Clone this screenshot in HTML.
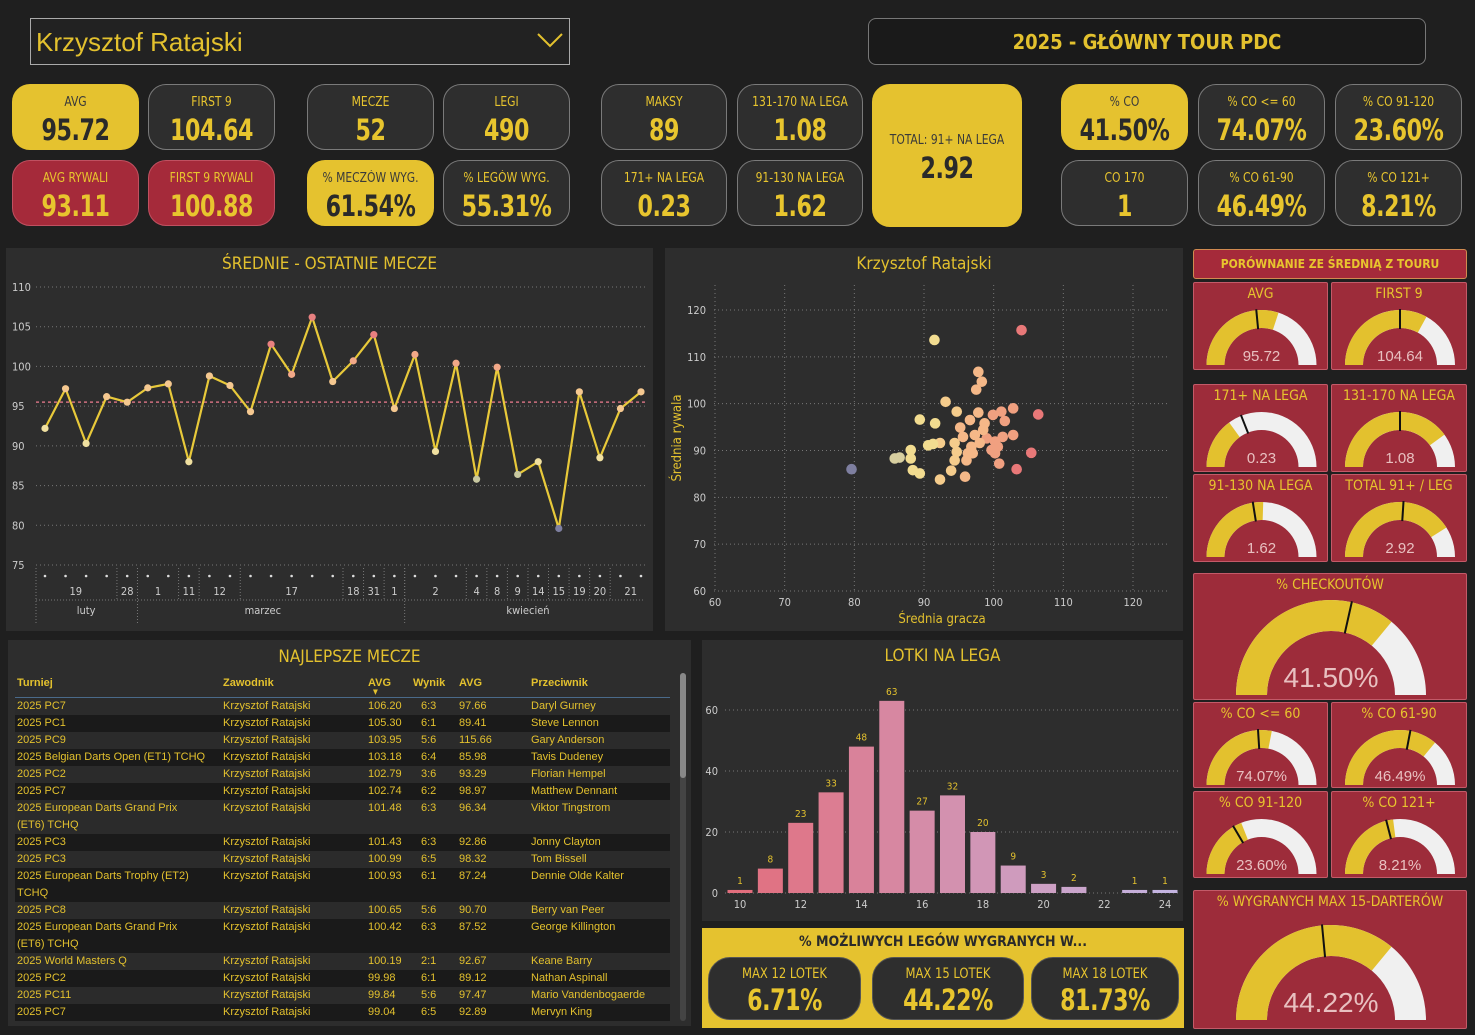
<!DOCTYPE html>
<html><head><meta charset="utf-8">
<style>
*{box-sizing:border-box;margin:0;padding:0}
body{width:1475px;height:1035px;background:#1f1f1f;font-family:"Liberation Sans Narrow","DejaVu Sans Condensed","Liberation Sans",sans-serif;position:relative;overflow:hidden;color:#e8c52e}
.abs{position:absolute}
.card{position:absolute;border-radius:18px;border:1px solid #7a7a7a;text-align:center;background:#2e2e2e;color:#e8c52e}
.card .l{font-size:13px;margin-top:10px;line-height:16px;transform:scaleX(0.92)}
.card .v{font-size:29px;font-weight:bold;line-height:34px;margin-top:2px;transform:scaleX(0.85);letter-spacing:-0.5px}
.y{background:#e5c22f;color:#2a2a2a;border-color:#e5c22f}
.y .l{color:#3a3a3a}
.r{background:#a52a3a;border-color:#c05060}
.panel{position:absolute;background:#2d2d2d}
.ptitle{position:absolute;left:0;right:0;text-align:center;font-size:17px;color:#e3c12e}
.gt{position:absolute;background:#9d2c3a;border:1px solid #c35a68;border-radius:2px}
.gt .t{position:absolute;left:0;right:0;top:3px;text-align:center;font-size:14px;color:#e8c52e}
table{border-collapse:collapse;font-family:"Liberation Sans Narrow","Liberation Sans",sans-serif;font-size:11px;color:#e3c12e}
td{padding:0 2px;vertical-align:top;line-height:17px}
tr.o{background:#2b2b2b} tr.e{background:#1a1a1a}
</style></head><body>

<div class="abs" style="left:30px;top:18px;width:540px;height:47px;border:1px solid #aaa;background:#222">
  <div class="abs" style="left:5px;top:8px;font-family:'Liberation Sans',sans-serif;font-size:26px;color:#e3c12e">Krzysztof Ratajski</div>
  <svg class="abs" style="left:505px;top:12px" width="28" height="18"><polyline points="2,3 14,15 26,3" fill="none" stroke="#e3c12e" stroke-width="2"/></svg>
</div>
<div class="abs" style="left:868px;top:18px;width:558px;height:47px;border:1px solid #777;border-radius:8px;background:#1a1a1a;text-align:center;line-height:46px;font-size:20px;font-weight:bold;color:#e3c12e">2025 - GŁÓWNY TOUR PDC</div>

<div class="card y" style="left:12px;top:84px;width:127px;height:66px"><div class="l">AVG</div><div class="v">95.72</div></div>
<div class="card" style="left:148px;top:84px;width:127px;height:66px"><div class="l">FIRST 9</div><div class="v">104.64</div></div>
<div class="card r" style="left:12px;top:160px;width:127px;height:66px"><div class="l">AVG RYWALI</div><div class="v">93.11</div></div>
<div class="card r" style="left:148px;top:160px;width:127px;height:66px"><div class="l">FIRST 9 RYWALI</div><div class="v">100.88</div></div>
<div class="card" style="left:307px;top:84px;width:127px;height:66px"><div class="l">MECZE</div><div class="v">52</div></div>
<div class="card" style="left:443px;top:84px;width:127px;height:66px"><div class="l">LEGI</div><div class="v">490</div></div>
<div class="card y" style="left:307px;top:160px;width:127px;height:66px"><div class="l">% MECZÓW WYG.</div><div class="v">61.54%</div></div>
<div class="card" style="left:443px;top:160px;width:127px;height:66px"><div class="l">% LEGÓW WYG.</div><div class="v">55.31%</div></div>
<div class="card" style="left:601px;top:84px;width:126px;height:66px"><div class="l">MAKSY</div><div class="v">89</div></div>
<div class="card" style="left:737px;top:84px;width:126px;height:66px"><div class="l">131-170 NA LEGA</div><div class="v">1.08</div></div>
<div class="card" style="left:601px;top:160px;width:126px;height:66px"><div class="l">171+ NA LEGA</div><div class="v">0.23</div></div>
<div class="card" style="left:737px;top:160px;width:126px;height:66px"><div class="l">91-130 NA LEGA</div><div class="v">1.62</div></div>
<div class="card y" style="left:872px;top:84px;width:150px;height:143px"><div class="l" style="margin-top:48px">TOTAL: 91+ NA LEGA</div><div class="v">2.92</div></div>
<div class="card y" style="left:1061px;top:84px;width:127px;height:66px"><div class="l">% CO</div><div class="v">41.50%</div></div>
<div class="card" style="left:1198px;top:84px;width:127px;height:66px"><div class="l">% CO &lt;= 60</div><div class="v">74.07%</div></div>
<div class="card" style="left:1335px;top:84px;width:127px;height:66px"><div class="l">% CO 91-120</div><div class="v">23.60%</div></div>
<div class="card" style="left:1061px;top:160px;width:127px;height:66px"><div class="l">CO 170</div><div class="v">1</div></div>
<div class="card" style="left:1198px;top:160px;width:127px;height:66px"><div class="l">% CO 61-90</div><div class="v">46.49%</div></div>
<div class="card" style="left:1335px;top:160px;width:127px;height:66px"><div class="l">% CO 121+</div><div class="v">8.21%</div></div>

<div class="panel" style="left:6px;top:248px;width:647px;height:383px">
  <div class="ptitle" style="top:6px">ŚREDNIE - OSTATNIE MECZE</div>
</div>
<svg class="abs" id="lineSvg" style="left:0;top:0" width="660" height="635"></svg>

<div class="panel" style="left:665px;top:248px;width:518px;height:383px">
  <div class="ptitle" style="top:6px">Krzysztof Ratajski</div>
</div>
<svg class="abs" id="scSvg" style="left:0;top:0" width="1190" height="635"></svg>

<div class="panel" style="left:8px;top:640px;width:683px;height:386px">
  <div class="ptitle" style="top:7px">NAJLEPSZE MECZE</div>
  <div class="abs" style="left:672px;top:33px;width:6px;height:348px;border-radius:3px;background:#444"><div style="width:6px;height:105px;border-radius:3px;background:#888"></div></div>
  <div class="abs" style="left:365px;top:48px;font-size:7px;color:#e3c12e">▼</div>
  <table class="abs" style="left:7px;top:35px;width:655px">
    <tr style="font-weight:bold;height:22px;border-bottom:1px solid #4a6a8a"><td style="width:206px">Turniej</td><td style="width:145px">Zawodnik</td><td style="width:45px">AVG</td><td style="width:46px">Wynik</td><td style="width:72px">AVG</td><td>Przeciwnik</td></tr>
    <tr class="o"><td>2025 PC7</td><td>Krzysztof Ratajski</td><td>106.20</td><td style="padding-left:10px">6:3</td><td>97.66</td><td>Daryl Gurney</td></tr>
    <tr class="e"><td>2025 PC1</td><td>Krzysztof Ratajski</td><td>105.30</td><td style="padding-left:10px">6:1</td><td>89.41</td><td>Steve Lennon</td></tr>
    <tr class="o"><td>2025 PC9</td><td>Krzysztof Ratajski</td><td>103.95</td><td style="padding-left:10px">5:6</td><td>115.66</td><td>Gary Anderson</td></tr>
    <tr class="e"><td>2025 Belgian Darts Open (ET1) TCHQ</td><td>Krzysztof Ratajski</td><td>103.18</td><td style="padding-left:10px">6:4</td><td>85.98</td><td>Tavis Dudeney</td></tr>
    <tr class="o"><td>2025 PC2</td><td>Krzysztof Ratajski</td><td>102.79</td><td style="padding-left:10px">3:6</td><td>93.29</td><td>Florian Hempel</td></tr>
    <tr class="e"><td>2025 PC7</td><td>Krzysztof Ratajski</td><td>102.74</td><td style="padding-left:10px">6:2</td><td>98.97</td><td>Matthew Dennant</td></tr>
    <tr class="o"><td>2025 European Darts Grand Prix<br>(ET6) TCHQ</td><td>Krzysztof Ratajski</td><td>101.48</td><td style="padding-left:10px">6:3</td><td>96.34</td><td>Viktor Tingstrom</td></tr>
    <tr class="e"><td>2025 PC3</td><td>Krzysztof Ratajski</td><td>101.43</td><td style="padding-left:10px">6:3</td><td>92.86</td><td>Jonny Clayton</td></tr>
    <tr class="o"><td>2025 PC3</td><td>Krzysztof Ratajski</td><td>100.99</td><td style="padding-left:10px">6:5</td><td>98.32</td><td>Tom Bissell</td></tr>
    <tr class="e"><td>2025 European Darts Trophy (ET2)<br>TCHQ</td><td>Krzysztof Ratajski</td><td>100.93</td><td style="padding-left:10px">6:1</td><td>87.24</td><td>Dennie Olde Kalter</td></tr>
    <tr class="o"><td>2025 PC8</td><td>Krzysztof Ratajski</td><td>100.65</td><td style="padding-left:10px">5:6</td><td>90.70</td><td>Berry van Peer</td></tr>
    <tr class="e"><td>2025 European Darts Grand Prix<br>(ET6) TCHQ</td><td>Krzysztof Ratajski</td><td>100.42</td><td style="padding-left:10px">6:3</td><td>87.52</td><td>George Killington</td></tr>
    <tr class="o"><td>2025 World Masters Q</td><td>Krzysztof Ratajski</td><td>100.19</td><td style="padding-left:10px">2:1</td><td>92.67</td><td>Keane Barry</td></tr>
    <tr class="e"><td>2025 PC2</td><td>Krzysztof Ratajski</td><td>99.98</td><td style="padding-left:10px">6:1</td><td>89.12</td><td>Nathan Aspinall</td></tr>
    <tr class="o"><td>2025 PC11</td><td>Krzysztof Ratajski</td><td>99.84</td><td style="padding-left:10px">5:6</td><td>97.47</td><td>Mario Vandenbogaerde</td></tr>
    <tr class="e"><td>2025 PC7</td><td>Krzysztof Ratajski</td><td>99.04</td><td style="padding-left:10px">6:5</td><td>92.89</td><td>Mervyn King</td></tr>
  </table>
</div>

<div class="panel" style="left:702px;top:640px;width:481px;height:281px">
  <div class="ptitle" style="top:6px">LOTKI NA LEGA</div>
</div>
<svg class="abs" id="hSvg" style="left:0;top:0" width="1190" height="925"></svg>

<div class="abs" style="left:702px;top:928px;width:482px;height:100px;background:#e5c22f">
  <div class="abs" style="left:0;right:0;top:6px;text-align:center;font-size:14px;font-weight:bold;color:#2a2a2a">% MOŻLIWYCH LEGÓW WYGRANYCH W...</div>
  <div class="card" style="left:6px;top:29px;width:153px;height:63px;border-radius:22px;border-color:#555"><div class="l" style="margin-top:8px;font-size:14px">MAX 12 LOTEK</div><div class="v" style="margin-top:1px">6.71%</div></div>
  <div class="card" style="left:170px;top:29px;width:152px;height:63px;border-radius:22px;border-color:#555"><div class="l" style="margin-top:8px;font-size:14px">MAX 15 LOTEK</div><div class="v" style="margin-top:1px">44.22%</div></div>
  <div class="card" style="left:329px;top:29px;width:148px;height:63px;border-radius:22px;border-color:#555"><div class="l" style="margin-top:8px;font-size:14px">MAX 18 LOTEK</div><div class="v" style="margin-top:1px">81.73%</div></div>
</div>

<div class="abs" style="left:1193px;top:249px;width:274px;height:30px;background:#a52a3a;border:1px solid #d08a50;border-radius:3px;text-align:center;line-height:28px;font-size:12px;font-weight:bold;color:#e8c52e">PORÓWNANIE ZE ŚREDNIĄ Z TOURU</div>
<div id="gauges"></div>

<script>
var NS="http://www.w3.org/2000/svg";
function mk(parent,tag,attrs){var e=document.createElementNS(NS,tag);for(var k in attrs)e.setAttribute(k,attrs[k]);parent.appendChild(e);return e;}

// ---------- line chart data ----------
var lineValues=[92.2,97.2,90.3,96.2,95.5,97.3,97.8,88.0,98.8,97.6,94.3,102.8,99.0,106.2,98.1,100.7,104.0,94.7,101.5,89.3,100.4,85.8,99.9,86.4,88.0,79.6,96.8,88.5,94.7,96.8];
var lineTourAvg=[95.5];
var lineYTicks=[75,80,85,90,95,100,105,110];
var dayLabels=["19","28","1","11","12","17","18","31","1","2","4","8","9","14","15","19","20","21"];
var dayIdx=[1.5,4,5.5,7,8.5,12,15,16,17,19,21,22,23,24,25,26,27,28.5];
var monthLabels=["luty","marzec","kwiecień"];
var monthIdx=[2,10.6,23.5];

(function(){
 var s=document.getElementById('lineSvg');
 function ly(v){return 287+(110-v)*(565-287)/35;}
 function lx(i){return 45+i*(641-45)/(lineValues.length-1);}
 lineYTicks.forEach(function(t){
  var g=mk(s,'line',{x1:36,x2:645,y1:ly(t),y2:ly(t),stroke:'#777','stroke-dasharray':'1,3'});
  
  
  var tx=mk(s,'text',{x:12,y:ly(t)+4,fill:'#ccc','font-size':11});tx.textContent=t;
  
  
 });
 var ref=mk(s,'line',{x1:36,x2:645,y1:ly(lineTourAvg[0]),y2:ly(lineTourAvg[0]),stroke:'#d07080','stroke-width':1.5,'stroke-dasharray':'3,3'});
 
 
 var pts=lineValues.map(function(v,i){return lx(i)+','+ly(v);}).join(' ');
 var pl=mk(s,'polyline',{points:pts,fill:'none',stroke:'#e8c93a','stroke-width':2.2});
 
 
 function col(v){if(v<81)return '#7e7fa0';if(v<87)return '#c8c8a0';if(v<93)return '#f0e0a0';if(v<99)return '#f5c890';if(v<102)return '#f2a888';return '#e88080';}
 lineValues.forEach(function(v,i){
  var c=mk(s,'circle',{cx:lx(i),cy:ly(v),r:3.6,fill:col(v)});
  
  
  var d=mk(s,'circle',{cx:lx(i),cy:576,r:1.3,fill:'#ddd'});
  
  
 });
 var seps=[3.5,4.5,6.5,7.5,9.5,14.5,15.5,16.5,17.5,20.5,21.5,22.5,23.5,24.5,25.5,26.5,27.5];
 dayLabels.forEach(function(t,i){
  var tx=mk(s,'text',{x:lx(dayIdx[i]),y:595,fill:'#ccc','font-size':11,'text-anchor':'middle'});tx.textContent=t;
  
  
 });
 monthLabels.forEach(function(t,i){
  var tx=mk(s,'text',{x:lx(monthIdx[i]),y:614,fill:'#ccc','font-size':11,'text-anchor':'middle'});tx.textContent=t;
  
  
 });
 mk(s,'line',{x1:36,x2:645,y1:600,y2:600,stroke:'#777','stroke-dasharray':'1,2'});
 [36,lx(4.5),lx(17.5)].forEach(function(a){mk(s,'line',{x1:a,x2:a,y1:568,y2:624,stroke:'#777','stroke-dasharray':'1,2'});});
 seps.forEach(function(p){mk(s,'line',{x1:lx(p),x2:lx(p),y1:568,y2:600,stroke:'#777','stroke-dasharray':'1,2'});});
})();

// ---------- scatter data ----------
var scX=[79.6,91.5,104,106.4,105.4,103.3,102.8,102.8,101.1,101.6,99.9,101.3,100.6,100.8,100.2,98.7,97.8,98.3,97.5,97.8,96.6,97.3,99,98,96.8,96.3,96.1,95.6,95.2,94.7,94.7,94.4,94.4,93.9,95.9,93.1,91.6,92.3,91.3,90.6,89.4,88.1,88.1,88.4,89.4,92.3,86.5,85.8,100.2,99.7,98.5,97];
var scY=[86,113.6,115.7,97.7,89.5,86,99,93.3,98.3,96.3,97.6,92.9,90.8,87.2,89.4,95.8,106.8,104.7,103,98.1,96.5,93.3,92.6,91.6,90.8,89.4,87.9,92.9,94.9,98.3,89.7,91.6,87.9,85.7,84.4,100.4,95.8,91.6,91.4,91.1,96.6,90.1,88.3,85.8,85.1,83.8,88.5,88.3,91.9,90.1,94.4,89.4];
var scTicks=[60,70,80,90,100,110,120];

(function(){
 var s=document.getElementById('scSvg');
 function sx(v){return 715+(v-60)*(1133-715)/60;}
 function sy(v){return 591-(v-60)*(591-310)/60;}
 scTicks.forEach(function(t){
  var a=mk(s,'line',{x1:714,x2:1167,y1:sy(t),y2:sy(t),stroke:'#777','stroke-dasharray':'1,3'});
  
  
  var b=mk(s,'line',{x1:sx(t),x2:sx(t),y1:285,y2:592,stroke:'#777','stroke-dasharray':'1,3'});
  
  
  var ty=mk(s,'text',{x:706,y:sy(t)+4,fill:'#ccc','font-size':11,'text-anchor':'end'});ty.textContent=t;
  
  
  var tx=mk(s,'text',{x:sx(t),y:606,fill:'#ccc','font-size':11,'text-anchor':'middle'});tx.textContent=t;
  
  
 });
 var xt=mk(s,'text',{x:942,y:623,fill:'#e3c12e','font-size':13,'text-anchor':'middle'});xt.textContent='Średnia gracza';
 
 
 var yt=mk(s,'text',{x:0,y:0,fill:'#e3c12e','font-size':13,'text-anchor':'middle',transform:'translate(681,438) rotate(-90)'});yt.textContent='Średnia rywala';
 
 
 function col(v){if(v<81)return '#7e7fa0';if(v<87)return '#d8cfa0';if(v<92)return '#f2dc90';if(v<95)return '#f5cc8c';if(v<99)return '#f5b888';if(v<103)return '#f0a080';return '#e87878';}
 scX.forEach(function(x,i){
  var c=mk(s,'circle',{cx:sx(x),cy:sy(scY[i]),r:5.3,fill:col(x)});
  
  
 });
})();

// ---------- histogram data ----------
var hCats=[10,11,12,13,14,15,16,17,18,19,20,21,22,23,24];
var hVals=[1,8,23,33,48,63,27,32,20,9,3,2,0,1,1];
var hYTicks=[0,20,40,60];
var hXTicks=[10,12,14,16,18,20,22,24];

(function(){
 var s=document.getElementById('hSvg');
 function hx(c){return 740+(c-10)*(1165-740)/14;}
 function hy(v){return 893-v*(893-710)/60;}
 hYTicks.forEach(function(t){
  var g=mk(s,'line',{x1:725,x2:1178,y1:hy(t),y2:hy(t),stroke:'#777','stroke-dasharray':'1,3'});
  
  
  var tx=mk(s,'text',{x:718,y:hy(t)+4,fill:'#ccc','font-size':11,'text-anchor':'end'});tx.textContent=t;
  
  
 });
 hXTicks.forEach(function(t){
  var tx=mk(s,'text',{x:hx(t),y:908,fill:'#ccc','font-size':11,'text-anchor':'middle'});tx.textContent=t;
  
  
 });
 var c0=[226,110,125],c1=[196,180,225];
 hCats.forEach(function(c,i){
  var v=hVals[i];if(v<=0)return;
  var t=i/(hCats.length-1);
  var col='rgb('+[0,1,2].map(function(k){return Math.round(c0[k]+(c1[k]-c0[k])*t);}).join(',')+')';
  var w=25;
  var r=mk(s,'rect',{x:hx(c)-w/2,y:hy(v),width:w,height:hy(0)-hy(v),fill:col});
  
  
  var tx=mk(s,'text',{x:hx(c),y:hy(v)-6,fill:'#e3c12e','font-size':10,'text-anchor':'middle'});tx.textContent=v;
  
  
 });
})();

// ---------- gauges ----------
var gTitles=["AVG","FIRST 9","171+ NA LEGA","131-170 NA LEGA","91-130 NA LEGA","TOTAL 91+ / LEG","% CHECKOUTÓW","% CO <= 60","% CO 61-90","% CO 91-120","% CO 121+","% WYGRANYCH MAX 15-DARTERÓW"];
var gLabels=["95.72","104.64","0.23","1.08","1.62","2.92","41.50%","74.07%","46.49%","23.60%","8.21%","44.22%"];
var gFill=[0.60,0.66,0.30,0.80,0.51,0.82,0.72,0.56,0.72,0.38,0.46,0.72];
var gTarget=[0.47,0.50,0.38,0.50,0.45,0.52,0.57,0.48,0.56,0.33,0.42,0.47];

(function(){
 var boxes=[[1193,282,135,88],[1331,282,136,88],[1193,384,135,88],[1331,384,136,88],[1193,474,135,88],[1331,474,136,88],[1193,573,274,127],[1193,702,135,86],[1331,702,136,86],[1193,791,135,87],[1331,791,136,87],[1193,890,274,139]];
 var host=document.getElementById('gauges');
 boxes.forEach(function(b,i){
  var big=b[2]>200;
  var d=document.createElement('div');d.className='gt';
  d.style.cssText='left:'+b[0]+'px;top:'+b[1]+'px;width:'+b[2]+'px;height:'+b[3]+'px';
  
  
  var t=document.createElement('div');t.className='t';t.textContent=gTitles[i];
  
  
  d.appendChild(t);
  var s=document.createElementNS(NS,'svg');s.setAttribute('width',b[2]);s.setAttribute('height',b[3]);s.style.cssText='position:absolute;left:0;top:0';
  d.appendChild(s);host.appendChild(d);
  var cx=b[2]/2, R=big?95:55, r=big?64:37, cy=big?(i==6?121:129):82;
  function arc(f0,f1,color){
   var a0=Math.PI*(1-f0),a1=Math.PI*(1-f1);
   var p='M'+(cx+R*Math.cos(a0))+','+(cy-R*Math.sin(a0))+' A'+R+','+R+' 0 0 1 '+(cx+R*Math.cos(a1))+','+(cy-R*Math.sin(a1))+' L'+(cx+r*Math.cos(a1))+','+(cy-r*Math.sin(a1))+' A'+r+','+r+' 0 0 0 '+(cx+r*Math.cos(a0))+','+(cy-r*Math.sin(a0))+'Z';
   return mk(s,'path',{d:p,fill:color});
  }
  var w=arc(0,1,'#f0f0f0');
  
  
  var y=arc(0,gFill[i],'#e3c12e');
  
  
  var a=Math.PI*(1-gTarget[i]);
  var n=mk(s,'line',{x1:cx+(r-1)*Math.cos(a),y1:cy-(r-1)*Math.sin(a),x2:cx+(R+1)*Math.cos(a),y2:cy-(R+1)*Math.sin(a),stroke:'#111','stroke-width':2});
  
  
  var tx=mk(s,'text',{x:cx,y:cy-(big?8:4),fill:'#e8c0c0','font-size':big?28:15,'text-anchor':'middle','font-family':'Liberation Sans Narrow, Liberation Sans, sans-serif'});tx.textContent=gLabels[i];
  
  
 });
})();
</script>
</body></html>
